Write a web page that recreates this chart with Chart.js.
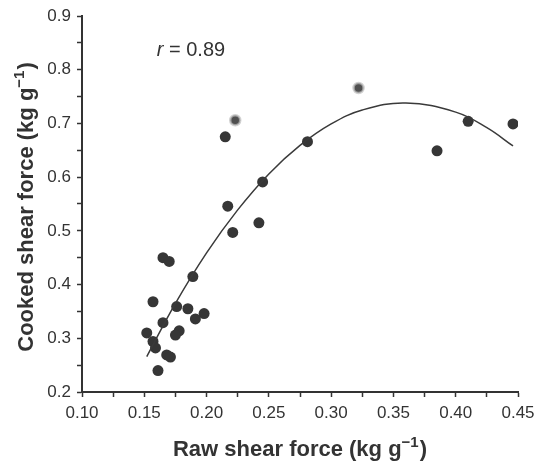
<!DOCTYPE html>
<html>
<head>
<meta charset="utf-8">
<script src="https://cdn.jsdelivr.net/npm/chart.js@4.4.0/dist/chart.umd.min.js"></script>
<style>
  html, body { margin: 0; padding: 0; background: #fff; }
  #wrap { width: 536px; height: 467px; }
</style>
</head>
<body>
<div id="wrap"><canvas id="grafico"></canvas></div>
<script>
// Datos
const crudo = [0.165, 0.170, 0.189, 0.157, 0.176, 0.185, 0.198, 0.191, 0.165, 0.178,
               0.175, 0.152, 0.157, 0.159, 0.168, 0.171, 0.161, 0.217, 0.221, 0.242,
               0.245, 0.215, 0.281, 0.385, 0.410, 0.446];
const cocido = [0.450, 0.443, 0.415, 0.368, 0.359, 0.355, 0.346, 0.336, 0.329, 0.314,
                0.306, 0.310, 0.294, 0.282, 0.269, 0.265, 0.240, 0.546, 0.497, 0.515,
                0.591, 0.675, 0.666, 0.649, 0.704, 0.699];
// puntos grises (resaltados)
const crudoGris = [0.223, 0.322];
const cocidoGris = [0.706, 0.766];
// curva de ajuste
const curvaX = [0.152, 0.175, 0.200, 0.225, 0.250, 0.275, 0.300, 0.325, 0.360, 0.400, 0.425, 0.446];
const curvaY = [0.266, 0.365, 0.459, 0.539, 0.606, 0.659, 0.699, 0.725, 0.738, 0.721, 0.692, 0.658];

const textoR = 'r = 0.89';
const tituloX = 'Raw shear force (kg g';
const tituloY = 'Cooked shear force (kg g';
const exponente = '\u22121';

const fuente = '"Liberation Sans", Arial, sans-serif';
const aPuntos = (xs, ys) => xs.map((x, i) => ({ x: x, y: ys[i] }));

// dibuja "texto(kg g^-1)" con superíndice real, centrado en (0,0)
function tituloConExponente(ctx, texto) {
    ctx.font = 'bold 22px ' + fuente;
    const w1 = ctx.measureText(texto).width;
    ctx.font = 'bold 15px ' + fuente;
    const w2 = ctx.measureText(exponente).width;
    ctx.font = 'bold 22px ' + fuente;
    const w3 = ctx.measureText(')').width;
    let x = -(w1 + w2 + w3 + 1) / 2;
    ctx.textBaseline = 'alphabetic';
    ctx.fillText(texto, x, 8);
    x += w1;
    ctx.font = 'bold 15px ' + fuente;
    ctx.fillText(exponente, x, -1);
    x += w2 + 1;
    ctx.font = 'bold 22px ' + fuente;
    ctx.fillText(')', x, 8);
}

// Etiqueta "r = 0.89" y títulos de los ejes
const textos = {
    id: 'textos',
    afterDatasetsDraw(chart) {
        const ctx = chart.ctx;
        const area = chart.chartArea;
        const px = chart.scales.x.getPixelForValue(0.160);
        const py = chart.scales.y.getPixelForValue(0.836);
        ctx.save();
        ctx.fillStyle = '#333';
        ctx.textBaseline = 'middle';
        ctx.font = 'italic 20px ' + fuente;
        ctx.fillText('r', px, py);
        const w = ctx.measureText('r').width;
        ctx.font = '20px ' + fuente;
        ctx.fillText(textoR.slice(1), px + w, py);

        // título eje x
        ctx.save();
        ctx.translate((area.left + area.right) / 2, 448);
        tituloConExponente(ctx, tituloX);
        ctx.restore();

        // título eje y
        ctx.save();
        ctx.translate(25, (area.top + area.bottom) / 2 + 3);
        ctx.rotate(-Math.PI / 2);
        tituloConExponente(ctx, tituloY);
        ctx.restore();
        ctx.restore();
    }
};

const ctx = document.getElementById('grafico').getContext('2d');
new Chart(ctx, {
    type: 'scatter',
    data: {
        datasets: [
            {
                label: 'ajuste',
                type: 'line',
                data: aPuntos(curvaX, curvaY),
                borderColor: '#3a3a3a',
                borderWidth: 1.5,
                pointRadius: 0,
                tension: 0.4,
                fill: false
            },
            {
                label: 'datos',
                data: aPuntos(crudo, cocido),
                backgroundColor: '#363636',
                borderColor: '#363636',
                borderWidth: 0,
                pointRadius: 5.5
            },
            {
                label: 'gris',
                data: aPuntos(crudoGris, cocidoGris),
                backgroundColor: '#505050',
                borderColor: 'rgba(190,190,190,0.7)',
                borderWidth: 2.5,
                pointRadius: 5
            }
        ]
    },
    options: {
        responsive: true,
        maintainAspectRatio: false,
        animation: false,
        layout: { padding: { top: 16, right: 18, left: 0, bottom: 0 } },
        plugins: {
            legend: { display: false },
            tooltip: { enabled: false }
        },
        scales: {
            x: {
                type: 'linear',
                min: 0.10,
                max: 0.45,
                afterFit: function(scale) {
                    scale.height = 75;
                    scale.paddingLeft = 0;
                    scale.paddingRight = 0;
                },
                grid: {
                    drawOnChartArea: false,
                    drawTicks: true,
                    tickLength: 5,
                    tickColor: '#333',
                    tickWidth: 1.5
                },
                border: { color: '#333', width: 2 },
                ticks: {
                    stepSize: 0.025,
                    autoSkip: false,
                    maxRotation: 0,
                    padding: 6,
                    color: '#333',
                    font: { family: fuente, size: 17 },
                    callback: function(value, index) {
                        return index % 2 === 0 ? value.toFixed(2) : '';
                    }
                },
                title: { display: false }
            },
            y: {
                type: 'linear',
                min: 0.2,
                max: 0.9,
                afterFit: function(scale) {
                    scale.width = 82;
                    scale.paddingTop = 0;
                    scale.paddingBottom = 0;
                },
                grid: {
                    drawOnChartArea: false,
                    drawTicks: true,
                    tickLength: 5,
                    tickColor: '#333',
                    tickWidth: 1.5
                },
                border: { color: '#333', width: 2 },
                ticks: {
                    stepSize: 0.05,
                    autoSkip: false,
                    padding: 6,
                    color: '#333',
                    font: { family: fuente, size: 17 },
                    callback: function(value, index) {
                        return index % 2 === 0 ? value.toFixed(1) : '';
                    }
                },
                title: { display: false }
            }
        }
    },
    plugins: [textos]
});
</script>
</body>
</html>
